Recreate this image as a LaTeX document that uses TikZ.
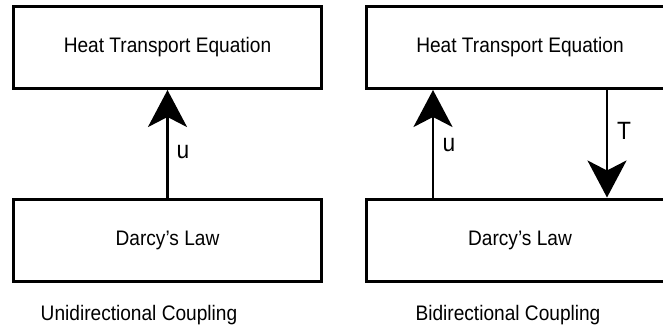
\documentclass[tikz,border=0pt]{standalone}
\usepackage{fontspec}
\usepackage{graphicx}
\setmainfont{Liberation Sans}
\usetikzlibrary{arrows.meta}
\newcommand{\narrowtxt}[1]{\scalebox{0.91}[1]{#1}}
\begin{document}
\begin{tikzpicture}[x=1pt,y=-1pt,
  box/.style={draw=black,line width=3pt,fill=white,minimum width=308pt,minimum height=82pt,inner sep=0pt,font=\fontsize{21}{24}\selectfont},
  arr/.style={line width=2.7pt,-{Stealth[length=37pt,width=39pt,inset=10pt]}},
  lbl/.style={inner sep=0pt,font=\fontsize{25}{28}\selectfont},
  captxt/.style={inner sep=0pt,font=\fontsize{21}{24}\selectfont}]
\clip (0,0) rectangle (663,332);
\fill[white] (0,0) rectangle (663,332);
% left
\node[box] (lt) at (167.5,47.5) {\narrowtxt{Heat Transport Equation}};
\node[box] (lb) at (167.5,240) {\narrowtxt{Darcy’s Law}};
\draw[arr] (lb.north) -- (lt.south);
\node[lbl] (lu) at (183,152) {\narrowtxt{u}};
\node[captxt] (lc) at (139,315) {\narrowtxt{Unidirectional Coupling}};
% right
\node[box] (rt) at (520,47.5) {\narrowtxt{Heat Transport Equation}};
\node[box] (rb) at (520,240) {\narrowtxt{Darcy’s Law}};
\coordinate (ru0) at ([xshift=-87pt]rb.north);
\coordinate (ru1) at ([xshift=-87pt]rt.south);
\coordinate (rt0) at ([xshift=87pt]rt.south);
\coordinate (rt1) at ([xshift=87pt]rb.north);
\draw[arr] (ru0) -- (ru1);
\draw[arr] (rt0) -- (rt1);
\node[lbl] (ruu) at (449,145) {\narrowtxt{u}};
\node[lbl] (rtt) at (624,131) {\narrowtxt{T}};
\node[captxt] (rc) at (508,315) {\narrowtxt{Bidirectional Coupling}};
\end{tikzpicture}
\end{document}
